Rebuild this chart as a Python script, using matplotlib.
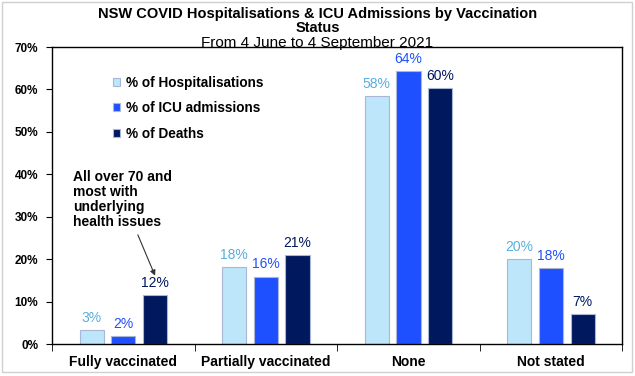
import numpy as np
import matplotlib
matplotlib.use("Agg")
import matplotlib.pyplot as plt
from matplotlib.patches import Rectangle

plt.rcParams['font.family'] = ['Liberation Sans', 'DejaVu Sans']

categories = ['Fully vaccinated', 'Partially vaccinated', 'None', 'Not stated']
hosp = [3.3, 18.1, 58.4, 20.1]
icu = [1.8, 15.9, 64.4, 17.9]
deaths = [11.6, 20.9, 60.4, 7.0]
hosp_lbl = ['3%', '18%', '58%', '20%']
icu_lbl = ['2%', '16%', '64%', '18%']
deaths_lbl = ['12%', '21%', '60%', '7%']

series = [
    ('% of Hospitalisations', hosp, hosp_lbl, '#bde6fb', '#5aaedc'),
    ('% of ICU admissions', icu, icu_lbl, '#1f50ff', '#1f50ff'),
    ('% of Deaths', deaths, deaths_lbl, '#00185e', '#00185e'),
]

fig = plt.figure(figsize=(6.35, 3.76), dpi=100)
fig.patches.append(Rectangle((0.003, 0.01), 0.992, 0.985, transform=fig.transFigure,
                             fill=False, edgecolor='#d0d0d0', lw=1))
ax = fig.add_axes([0.082, 0.085, 0.898, 0.79])

x = np.arange(len(categories))
w = 0.17
gap = 0.222
for i, (name, vals, lbls, col, tcol) in enumerate(series):
    pos = x + (i - 1) * gap
    ax.bar(pos, vals, w, color=col, edgecolor='#a9b6d6', lw=0.8, label=name)
    for p, v, t in zip(pos, vals, lbls):
        ax.text(p, v + 1.2, t, ha='center', va='bottom', color=tcol, fontsize=10)

ax.set_xlim(-0.5, 3.5)
ax.set_ylim(0, 70)
ax.set_yticks(range(0, 71, 10))
ax.set_yticklabels([f'{v}%' for v in range(0, 71, 10)], fontsize=8.5, fontweight='bold')
ax.set_xticks(x)
ax.set_xticklabels(categories, fontsize=10, fontweight='bold')
ax.tick_params(axis='x', length=0, pad=8)
ax.set_xticks(np.arange(-0.5, 3.6, 1), minor=True)
ax.tick_params(axis='x', which='minor', length=5, direction='out')
ax.tick_params(axis='y', length=4, direction='out', pad=6)
for s in ax.spines.values():
    s.set_linewidth(1.0)

leg = ax.legend(loc='upper left', bbox_to_anchor=(0.085, 0.945), frameon=False,
                prop={'weight': 'bold', 'size': 9.8}, handlelength=0.55, handleheight=0.55,
                handletextpad=0.4, labelspacing=0.85)

ax.annotate('All over 70 and\nmost with\nunderlying\nhealth issues',
            xy=(0.23, 15.5), xytext=(-0.35, 27.0), fontsize=10, fontweight='bold',
            ha='left', va='bottom', linespacing=1.12,
            arrowprops=dict(arrowstyle='-|>', color='#333333', lw=0.8, mutation_scale=8,
                            shrinkA=2))

fig.text(0.5, 0.945, 'NSW COVID Hospitalisations & ICU Admissions by Vaccination\nStatus',
         ha='center', va='center', fontsize=10.5, fontweight='bold', linespacing=1.0)
fig.text(0.5, 0.885, 'From 4 June to 4 September 2021', ha='center', va='center', fontsize=11)

fig.savefig('out.png', dpi=100)
